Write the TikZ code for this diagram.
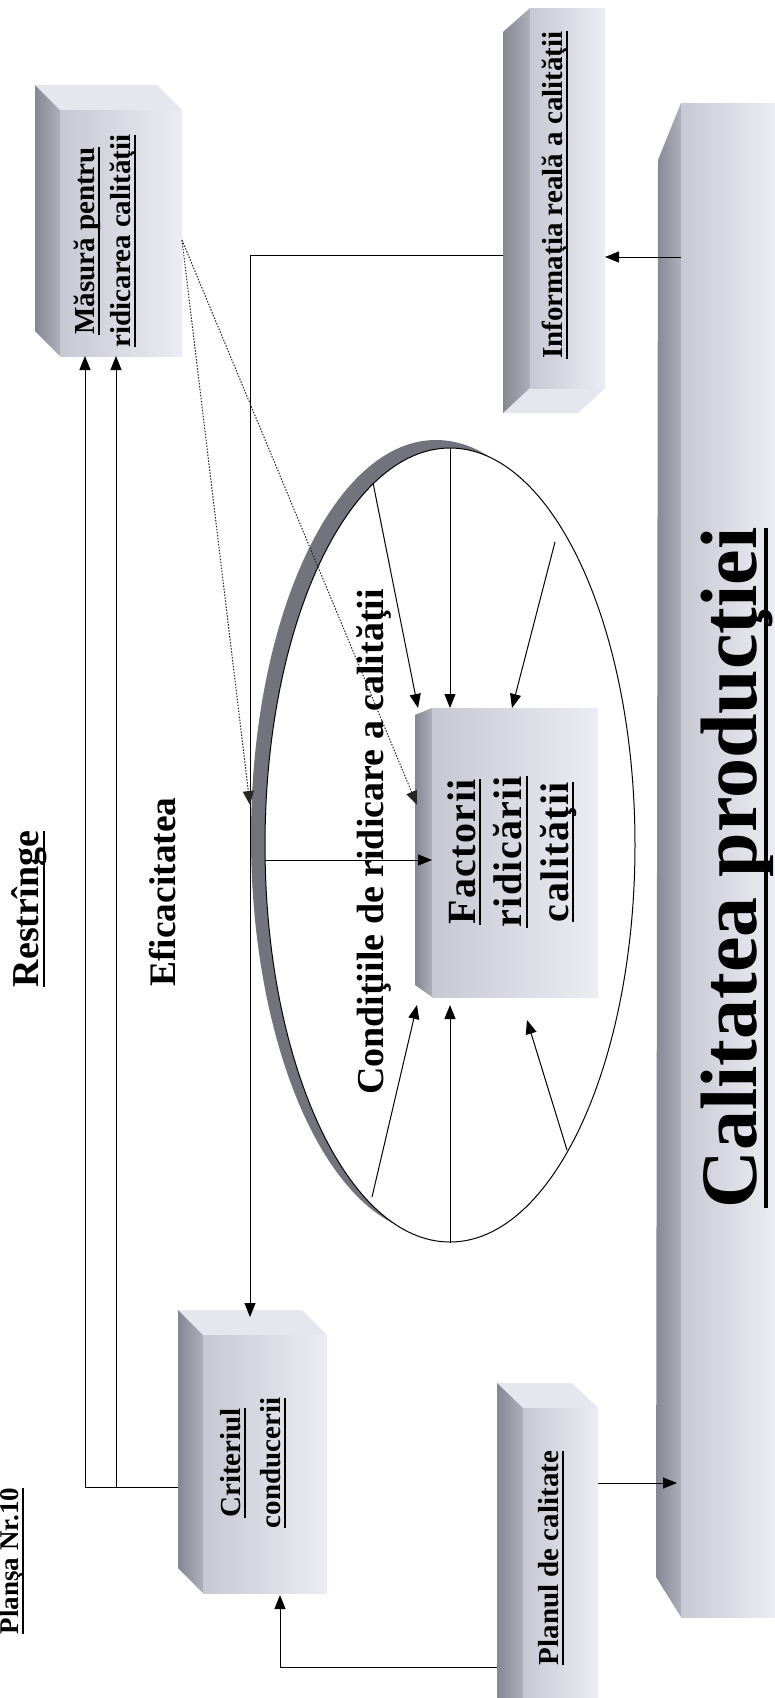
\documentclass[tikz,border=0pt]{standalone}
\usepackage{fontspec}
\setmainfont{Liberation Serif}
\usetikzlibrary{arrows.meta,shapes.geometric,calc}
\definecolor{faceA}{RGB}{200,200,212}
\definecolor{faceB}{RGB}{236,236,244}
\definecolor{sideA}{RGB}{135,135,148}
\definecolor{sideB}{RGB}{175,175,188}
\definecolor{topC}{RGB}{230,230,238}
\definecolor{shad}{RGB}{115,115,125}
\newcommand\setfs[2]{\fontsize{#1}{#2}\selectfont}
\newcommand\ulin[3]{\setbox0=\hbox{#1}\leavevmode\rlap{\rule[-#2]{\wd0}{#3}}\box0}
\tikzset{
  front/.style={inner sep=0pt, outer sep=0pt, left color=faceA, right color=faceB, draw=none},
  side/.style={left color=sideA, right color=sideB, draw=none},
  topf/.style={fill=topC, draw=none},
  arr/.style={line width=1pt, -{Triangle[length=14pt,width=11pt]}},
  dotl/.style={line width=1pt, dash pattern=on 1.5pt off 1.5pt, draw=black!85, -{Triangle[length=14pt,width=11pt]}},
  lbl/.style={rotate=90, inner sep=0pt, align=center, font=\bfseries\setfs{29}{36}},
}
\begin{document}
\begin{tikzpicture}[x=1pt,y=1pt]
\useasboundingbox (0,0) rectangle (775,-1698);
\fill[white] (0,0) rectangle (775,-1698);

% ellipse with shadow
\fill[shad] (436,-837) ellipse [x radius=185, y radius=397];
\node[ellipse, draw, line width=1pt, fill=white, minimum width=370pt, minimum height=794pt, inner sep=0pt] (ell) at (450,-845) {};

% Masura box
\fill[topf] (35,-85) -- (157,-85) -- (182,-110) -- (60,-110) -- cycle;
\shade[side] (35,-85) -- (60,-110) -- (60,-356) -- (35,-331) -- cycle;
\node[front, minimum width=122pt, minimum height=246pt] (mas) at (121,-233) {};
\node[lbl] (masT) at (105,-241) {\ulin{Măsură pentru}{6pt}{1.8pt}\\\ulin{ridicarea calităţii}{6pt}{1.8pt}};

% Criteriul box
\fill[topf] (178,-1310) -- (302,-1310) -- (327,-1335) -- (203,-1335) -- cycle;
\shade[side] (178,-1310) -- (203,-1335) -- (203,-1593) -- (178,-1568) -- cycle;
\node[front, minimum width=124pt, minimum height=258pt] (crit) at (265,-1464) {};
\node[lbl, font=\bfseries\setfs{29}{40}] (critT) at (253,-1463) {\ulin{Criteriul}{6pt}{1.8pt}\\\ulin{conducerii}{6pt}{1.8pt}};

% Planul box
\fill[topf] (497,-1383) -- (572,-1383) -- (598,-1408) -- (523,-1408) -- cycle;
\shade[side] (497,-1383) -- (523,-1408) -- (523,-1698) -- (497,-1698) -- cycle;
\node[front, minimum width=75pt, minimum height=290pt] (plan) at (560.5,-1553) {};
\node[lbl] (planT) at (551,-1558) {\ulin{Planul de calitate}{6pt}{1.8pt}};

% Informatia box
\fill[topf] (503,-413) -- (530,-388) -- (605,-388) -- (578,-413) -- cycle;
\shade[side] (503,-32) -- (530,-8) -- (530,-388) -- (503,-413) -- cycle;
\node[front, minimum width=75pt, minimum height=380pt] (info) at (567.5,-198) {};
\node[lbl] (infoT) at (555,-195) {\ulin{Informaţia reală a calităţii}{6pt}{1.8pt}};

% Factorii box
\shade[side] (415,-715) -- (432,-708) -- (432,-997) -- (415,-985) -- cycle;
\node[front, minimum width=166pt, minimum height=289pt] (fac) at (515,-852.5) {};
\node[lbl, font=\bfseries\setfs{40}{46.5}\addfontfeatures{LetterSpace=3.5}] (facT) at (512,-852) {\ulin{Factorii}{6pt}{2pt}\\\ulin{ridicării}{6pt}{2pt}\\\ulin{calităţii}{6pt}{2pt}};

% big box
\shade[side] (658,-160) -- (681,-103) -- (681,-1617) -- (656,-1577) -- cycle;
\node[front, minimum width=94pt, minimum height=1514pt] (big) at (728,-860) {};
\node[rotate=90, anchor=base, inner sep=0pt, font=\bfseries\setfs{80}{90}] (bigT) at (756,-868) {\ulin{Calitatea producţiei}{12pt}{4pt}};

% free labels
\node[lbl, anchor=base, font=\bfseries\setfs{38}{40}] (restr) at (38,-909) {\ulin{Restrînge}{6.5pt}{2pt}};
\node[lbl, anchor=base, font=\bfseries\setfs{37.4}{40}] (efic) at (175,-892) {Eficacitatea};
\node[lbl, anchor=base, font=\bfseries\setfs{38}{40}] (cond) at (383,-842) {Condiţiile de ridicare a calităţii};
\node[lbl, anchor=base, font=\bfseries\setfs{27}{30}] (plansa) at (19,-1561) {\ulin{Planşa Nr.10}{5pt}{1.5pt}};

% connectors: Criteriul -> Masura
\coordinate (critL) at ([xshift=-25pt,yshift=-23pt]crit.west);
\coordinate (masB1) at ([xshift=-36pt]mas.south);
\coordinate (masB2) at ([xshift=-5pt]mas.south);
\draw[arr] (critL) -| (masB1);
\draw[arr] (critL -| masB2) -- (masB2);

% Informatia -> Criteriul
\coordinate (infoL) at ([xshift=-27pt,yshift=-57pt]info.west);
\coordinate (critTop) at ([xshift=-15pt,yshift=18pt]crit.north);
\draw[arr] (infoL) -| (critTop);

% big -> Informatia
\coordinate (bigA) at ([yshift=603pt]big.west);
\draw[arr] (bigA) -- (bigA -| info.east);

% Planul -> big
\coordinate (planR) at ([yshift=70pt]plan.east);
\draw[arr] (planR) -- ([xshift=-4pt]planR -| big.west);

% Planul -> Criteriul
\coordinate (planL) at ([xshift=-26pt,yshift=-114pt]plan.west);
\coordinate (critB) at ([xshift=15pt,yshift=-2pt]crit.south);
\draw[arr] (planL) -| (critB);

% dotted lines from Masura
\coordinate (masR) at ([yshift=-7pt]mas.east);
\coordinate (vHit) at ([yshift=512pt]critTop);
\coordinate (facHit) at ([xshift=-15pt,yshift=-97pt]fac.north west);
\draw[dotl] (masR) -- (vHit);
\draw[dotl] (masR) -- (facHit);

% arrows inside the ellipse
\draw[arr] (ell.north) -- (ell.north |- fac.north);
\draw[arr] (ell.102) -- ([xshift=-14pt]fac.north west);
\draw[arr] ([shift={(105pt,303pt)}]ell.center) -- ([xshift=-3pt]fac.north);
\draw[arr] ([shift={(-78pt,-352pt)}]ell.center) -- ([xshift=-15pt,yshift=-8pt]fac.south west);
\draw[arr] (ell.south) -- ([yshift=-8pt]ell.south |- fac.south);
\draw[arr] ([shift={(117pt,-305pt)}]ell.center) -- ([shift={(12pt,-23pt)}]fac.south);
\draw[arr] ([yshift=-15pt]ell.west) -- ([yshift=-15pt]ell.west -| fac.west);
\end{tikzpicture}
\end{document}
